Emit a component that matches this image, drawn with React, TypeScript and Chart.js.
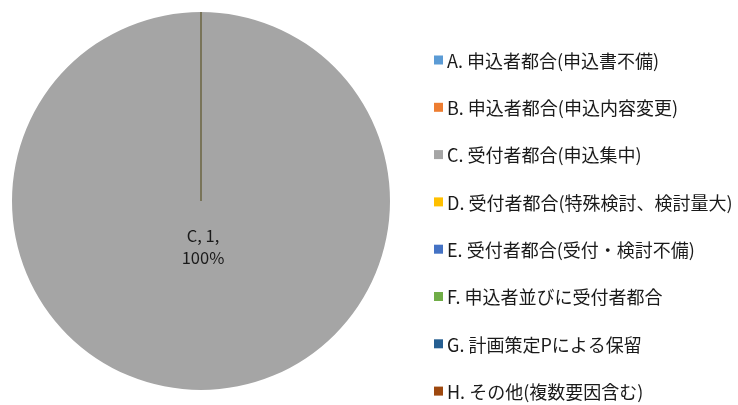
import React, { useEffect, useRef } from "react";
import { Chart, registerables } from "chart.js";

Chart.register(...registerables);

const categories = ["A", "B", "C", "D", "E", "F", "G", "H"];
const legendLabels = [
  "A. 申込者都合(申込書不備)",
  "B. 申込者都合(申込内容変更)",
  "C. 受付者都合(申込集中)",
  "D. 受付者都合(特殊検討、検討量大)",
  "E. 受付者都合(受付・検討不備)",
  "F. 申込者並びに受付者都合",
  "G. 計画策定Pによる保留",
  "H. その他(複数要因含む)",
];
const values = [0, 0, 1, 0, 0, 0, 0, 0];
const colors = ["#5B9BD5", "#ED7D31", "#A5A5A5", "#FFC000", "#4472C4", "#70AD47", "#255E91", "#9E480E"];

const FONT = '"Noto Sans CJK JP", "Liberation Sans", sans-serif';

const overlayPlugin = {
  id: "overlay",
  afterDatasetsDraw(chart: any) {
    const ctx = chart.ctx;
    const meta = chart.getDatasetMeta(0);
    const arc = meta.data[0];
    const cx = arc.x;
    const cy = arc.y;
    const r = arc.outerRadius;
    const total = values.reduce((a, b) => a + b, 0);
    const start = -Math.PI / 2;
    if (values.some((v) => v === 0)) {
      ctx.save();
      ctx.strokeStyle = "#6b6440";
      ctx.lineWidth = 1.5;
      ctx.beginPath();
      ctx.moveTo(cx, cy);
      ctx.lineTo(cx + r * Math.cos(start), cy + r * Math.sin(start));
      ctx.stroke();
      ctx.restore();
    }
    ctx.save();
    ctx.fillStyle = "#1a1a1a";
    ctx.font = `16.5px ${FONT}`;
    ctx.textAlign = "center";
    ctx.textBaseline = "middle";
    values.forEach((v, i) => {
      if (v <= 0) return;
      const pct = Math.round((v / total) * 100);
      let lx = cx;
      let ly = cy;
      if (v === total) {
        lx = cx + 2;
        ly = cy + r * 0.24;
      } else {
        const el = meta.data[i];
        const mid = (el.startAngle + el.endAngle) / 2;
        lx = cx + r * 0.6 * Math.cos(mid);
        ly = cy + r * 0.6 * Math.sin(mid);
      }
      ctx.fillText(`${categories[i]}, ${v},`, lx, ly - 11);
      ctx.fillText(`${pct}%`, lx, ly + 11);
    });
    ctx.restore();
    ctx.save();
    ctx.font = `18px ${FONT}`;
    ctx.textAlign = "left";
    ctx.textBaseline = "middle";
    legendLabels.forEach((t, i) => {
      const y = 60 + i * 47.3;
      ctx.fillStyle = colors[i];
      ctx.fillRect(434, y - 4.5, 9, 9);
      ctx.fillStyle = "#1a1a1a";
      ctx.fillText(t, 447, y + 1);
    });
    ctx.restore();
  },
};

export default function App() {
  const ref = useRef<HTMLCanvasElement>(null);
  useEffect(() => {
    document.body.style.margin = "0";
    const chart = new Chart(ref.current!, {
      type: "pie",
      data: {
        labels: categories,
        datasets: [
          {
            data: values,
            backgroundColor: colors,
            borderWidth: 0,
          },
        ],
      },
      options: {
        animation: false,
        responsive: false,
        layout: { padding: { left: 11, top: 12, bottom: 15, right: 347 } },
        plugins: {
          legend: { display: false },
          tooltip: { enabled: false },
        },
      },
      plugins: [overlayPlugin],
    });
    return () => chart.destroy();
  }, []);
  return (
    <div style={{ width: 738, height: 405, background: "#fff" }}>
      <canvas ref={ref} width={738} height={405} />
    </div>
  );
}
